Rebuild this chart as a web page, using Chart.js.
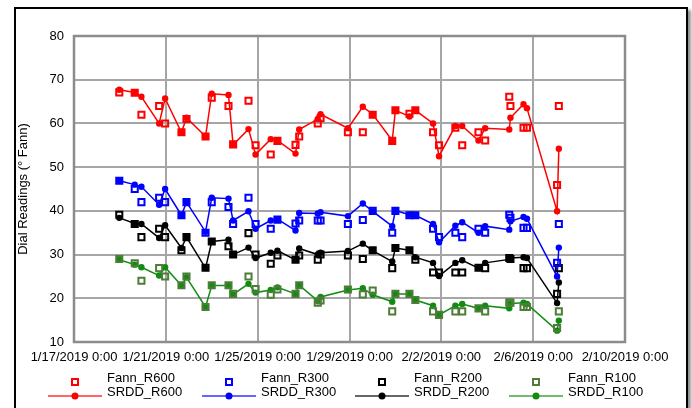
<!DOCTYPE html>
<html>
<head>
<meta charset="utf-8">
<script src="https://cdn.jsdelivr.net/npm/chart.js@4"></script>
<style>
  body { margin: 0; width: 692px; height: 408px; overflow: hidden; background: #fff; font-family: "Liberation Sans", Arial, sans-serif; }
  #frame { position: absolute; left: 14px; top: 7px; width: 670px; height: 430px; border: 2px solid #000; box-shadow: 3px 3px 3px rgba(0,0,0,0.45); }
  #c { position: absolute; left: 0; top: 0; }
  .lg { position: absolute; font-size: 13px; line-height: 16px; color: #000; white-space: nowrap; }
  .mk { position: absolute; }
</style>
</head>
<body>
<div id="frame"></div>
<canvas id="c" width="692" height="408"></canvas>
<div id="legend"></div>
<script>
// sample times
const times = [
  '1/18/2019 23:20', '1/19/2019 15:30', '1/19/2019 22:30', '1/20/2019 17:00', '1/20/2019 23:15',
  '1/21/2019 16:20', '1/21/2019 21:35', '1/22/2019 17:30', '1/23/2019 0:00', '1/23/2019 17:30',
  '1/23/2019 22:20', '1/24/2019 14:25', '1/24/2019 21:50', '1/25/2019 13:40', '1/25/2019 20:40',
  '1/26/2019 15:35', '1/26/2019 19:25', '1/27/2019 14:50', '1/27/2019 17:45', '1/28/2019 22:20',
  '1/29/2019 13:55', '1/30/2019 0:15', '1/30/2019 20:40', '1/31/2019 0:00', '1/31/2019 14:40',
  '1/31/2019 20:50', '2/1/2019 15:20', '2/1/2019 21:35', '2/2/2019 14:40', '2/2/2019 21:50',
  '2/3/2019 14:50', '2/3/2019 21:50', '2/4/2019 23:00', '2/5/2019 0:15', '2/5/2019 13:55',
  '2/5/2019 17:30', '2/7/2019 1:00', '2/7/2019 2:50'
];

const fannR600 = [67.1, 67.0, 62.0, 64.0, 60.0, 58.0, 61.0, 57.0, 65.9, 64.0, 55.2, 65.2, 55.0, 52.9, 56.0, 55.1, 57.0, 60.0, 61.2, 58.0,
                  58.0, 62.0, 56.0, 63.0, 62.2, 63.0, 58.0, 55.0, 59.0, 55.0, 58.0, 56.1, 66.1, 64.0, 59.0, 59.0, 45.9, 64.0];
const srddR600 = [67.7, 67.1, 66.1, 60.0, 65.7, 57.9, 61.3, 57.0, 66.8, 66.5, 55.1, 58.7, 52.9, 56.4, 56.1, 53.1, 58.6, 61.0, 62.1, 58.9,
                  63.8, 62.1, 56.1, 63.0, 61.6, 63.0, 60.0, 52.5, 59.4, 59.4, 56.1, 58.9, 58.6, 61.3, 64.4, 63.5, 39.9, 54.2];
const fannR300 = [46.9, 45.0, 42.0, 43.0, 42.0, 39.0, 42.0, 35.0, 42.0, 40.9, 37.0, 43.0, 37.0, 35.9, 38.0, 37.1, 37.8, 37.8, 37.8, 37.0,
                  37.9, 40.0, 35.0, 40.0, 39.0, 39.0, 35.9, 34.0, 35.0, 34.0, 35.9, 35.0, 39.1, 38.4, 36.1, 36.1, 28.1, 37.0];
const srddR300 = [46.9, 46.0, 45.5, 41.4, 45.0, 39.0, 42.0, 35.2, 43.0, 42.8, 37.8, 39.9, 35.9, 37.8, 38.1, 35.5, 39.5, 39.4, 39.7, 38.8,
                  41.7, 39.9, 36.5, 40.1, 39.1, 39.0, 37.0, 32.8, 36.6, 37.4, 35.0, 36.5, 35.7, 37.6, 38.6, 38.2, 25.0, 31.6];
const fannR200 = [39.1, 37.0, 34.0, 35.9, 34.0, 31.0, 34.0, 27.0, 33.0, 31.9, 30.0, 34.9, 30.0, 27.9, 29.8, 28.8, 29.8, 28.8, 30.0, 29.8,
                  29.0, 31.0, 26.9, 31.5, 31.0, 28.8, 25.9, 25.9, 25.9, 25.9, 27.0, 26.9, 29.2, 29.0, 26.9, 26.9, 21.0, 26.9];
const srddR200 = [38.4, 37.1, 37.0, 33.8, 36.7, 31.5, 34.0, 26.9, 33.0, 33.4, 30.0, 31.6, 29.2, 30.4, 30.9, 28.8, 31.4, 30.0, 30.4, 30.8,
                  32.5, 30.9, 28.4, 31.5, 31.0, 29.4, 28.1, 25.1, 28.1, 28.7, 26.9, 28.1, 28.9, 29.2, 29.4, 29.2, 18.9, 23.6];
const fannR100 = [29.0, 28.0, 24.0, 26.9, 25.0, 23.0, 25.0, 18.0, 23.0, 23.0, 21.0, 25.0, 22.1, 20.8, 22.0, 21.0, 23.0, 19.0, 19.5, 22.0,
                  20.9, 21.8, 17.0, 21.0, 21.0, 19.6, 17.0, 16.2, 17.0, 17.0, 17.7, 17.0, 19.0, 19.0, 18.0, 18.0, 13.2, 17.0];
const srddR100 = [28.8, 27.7, 27.1, 25.2, 27.1, 22.9, 24.8, 18.0, 22.9, 22.9, 20.9, 23.3, 21.3, 21.9, 22.5, 21.0, 23.0, 19.4, 20.3, 21.9,
                  22.3, 20.8, 19.2, 21.0, 21.0, 19.6, 18.3, 16.2, 18.3, 18.7, 17.7, 18.3, 17.7, 18.8, 19.0, 18.7, 12.6, 14.9];

const xStart = '1/17/2019 0:00';
const xEnd = '2/10/2019 0:00';
const xStepDays = 4;
const yMin = 10, yMax = 80, yStep = 10;

const fannNames = ['Fann_R600', 'Fann_R300', 'Fann_R200', 'Fann_R100'];
const srddNames = ['SRDD_R600', 'SRDD_R300', 'SRDD_R200', 'SRDD_R100'];
const fannColors = ['#ff0000', '#0000ff', '#000000', '#4e7d3a'];
const srddColors = ['#ff0000', '#0000ff', '#000000', '#108c10'];

function parseTime(s) {
  const [d, t] = s.split(' ');
  const [m, dd, y] = d.split('/').map(Number);
  const [h, mi] = t.split(':').map(Number);
  return Date.UTC(y, m - 1, dd, h, mi);
}
const base = parseTime(xStart);
const toDays = s => (parseTime(s) - base) / 864e5;
function fmt(days) {
  const dt = new Date(base + days * 864e5);
  return (dt.getUTCMonth() + 1) + '/' + dt.getUTCDate() + '/' + dt.getUTCFullYear() + ' ' +
    dt.getUTCHours() + ':' + String(dt.getUTCMinutes()).padStart(2, '0');
}
const pts = vals => vals.map((v, i) => ({ x: toDays(times[i]), y: v }));

const fannData = [fannR600, fannR300, fannR200, fannR100];
const srddData = [srddR600, srddR300, srddR200, srddR100];
const font = { family: '"Liberation Sans", Arial, sans-serif', size: 13 };

const datasets = [];
for (let i = 0; i < 4; i++) {
  datasets.push({
    label: fannNames[i], data: pts(fannData[i]), showLine: false,
    pointStyle: 'rect', pointRadius: 4.3, pointBorderWidth: 2,
    pointBorderColor: fannColors[i], pointBackgroundColor: 'rgba(0,0,0,0)', borderColor: fannColors[i]
  });
}
for (let i = 0; i < 4; i++) {
  datasets.push({
    label: srddNames[i], data: pts(srddData[i]), borderColor: srddColors[i], backgroundColor: srddColors[i],
    borderWidth: 1.5, pointRadius: 3.2, pointBorderWidth: 0, pointBackgroundColor: srddColors[i], tension: 0
  });
}

const plotFrame = {
  id: 'plotFrame',
  beforeDatasetsDraw(c) {
    const a = c.chartArea, ctx = c.ctx;
    ctx.save();
    ctx.strokeStyle = '#8c8c8c';
    ctx.lineWidth = 2.5;
    ctx.strokeRect(a.left, a.top, a.right - a.left, a.bottom - a.top);
    ctx.restore();
  }
};

new Chart(document.getElementById('c'), {
  type: 'line',
  data: { datasets: datasets },
  plugins: [plotFrame],
  options: {
    responsive: false, animation: false, devicePixelRatio: 1,
    layout: { padding: { left: 14, top: 36, right: 67, bottom: 38 } },
    plugins: { legend: { display: false }, tooltip: { enabled: false } },
    scales: {
      x: {
        type: 'linear', min: 0, max: toDays(xEnd),
        afterFit: s => { s.height = 28; },
        grid: { color: '#a6a6a6', lineWidth: 2, drawTicks: false },
        border: { display: false },
        ticks: {
          stepSize: xStepDays, autoSkip: false, maxRotation: 0, padding: 8, color: '#000', font: font,
          callback: v => fmt(v)
        }
      },
      y: {
        min: yMin, max: yMax,
        afterFit: s => { s.width = 60; },
        grid: { color: '#a6a6a6', lineWidth: 2, drawTicks: false },
        border: { display: false },
        ticks: { stepSize: yStep, padding: 10, color: '#000', font: font },
        title: { display: true, text: 'Dial Readings (° Fann)', color: '#000', font: font, padding: { top: 2, bottom: 0 } }
      }
    }
  }
});

// legend, 4 columns x 2 rows
const lg = document.getElementById('legend');
const colX = [75, 229, 382, 536];
function addItem(cx, cy, name, svg) {
  const m = document.createElement('div');
  m.className = 'mk';
  m.style.left = (cx - 28) + 'px';
  m.style.top = (cy - 5) + 'px';
  m.innerHTML = svg;
  lg.appendChild(m);
  const t = document.createElement('div');
  t.className = 'lg';
  t.style.left = (cx + 32) + 'px';
  t.style.top = (cy - 8) + 'px';
  t.textContent = name;
  lg.appendChild(t);
}
for (let i = 0; i < 4; i++) {
  addItem(colX[i], 378, fannNames[i],
    '<svg width="56" height="10"><rect x="25" y="2" width="6" height="6" fill="none" stroke="' + fannColors[i] + '" stroke-width="2"/></svg>');
  addItem(colX[i], 392, srddNames[i],
    '<svg width="56" height="10"><line x1="1" y1="5" x2="55" y2="5" stroke="' + srddColors[i] + '" stroke-width="1.5" opacity="0.8"/><circle cx="28" cy="5" r="3.5" fill="' + srddColors[i] + '"/></svg>');
}
</script>
</body>
</html>
